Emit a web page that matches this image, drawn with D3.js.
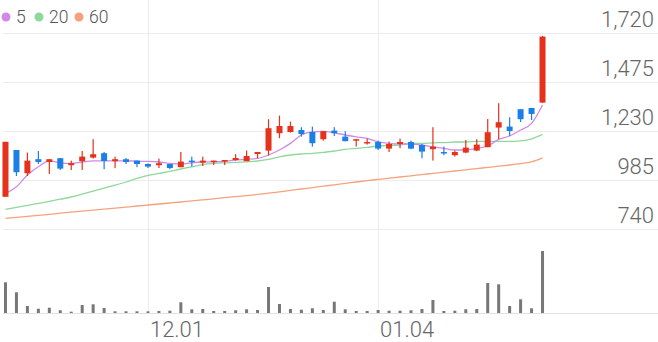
<!DOCTYPE html>
<html>
<head>
<meta charset="utf-8">
<script src="https://cdn.jsdelivr.net/npm/d3@7"></script>
<style>
    body { margin: 0; background: #fff; }
    svg { display: block; font-family: Roboto, "Noto Sans", sans-serif; }
    .grid { stroke: #ececec; stroke-width: 1; }
    .axis-label { fill: #666; font-size: 22px; font-weight: 300; }
    .legend-label { fill: #555; font-size: 17.5px; font-weight: 300; }
</style>
</head>
<body>
<svg></svg>
<script>
// 数据：日期（交易日）
var dates = ["11.12", "11.13", "11.16", "11.17", "11.18", "11.19", "11.20", "11.23", "11.24", "11.25",
    "11.26", "11.27", "11.30", "12.01", "12.02", "12.03", "12.04", "12.07", "12.08", "12.09",
    "12.10", "12.11", "12.14", "12.15", "12.16", "12.17", "12.18", "12.21", "12.22", "12.23",
    "12.24", "12.28", "12.29", "12.30", "01.04", "01.05", "01.06", "01.07", "01.08", "01.11",
    "01.12", "01.13", "01.14", "01.15", "01.18", "01.19", "01.20", "01.21", "01.22", "01.25"];

// K线：开、高、低、收
var open = [901, 1135, 1019, 1089, 1075, 1094, 1059, 1079, 1097, 1119,
    1079, 1089, 1082, 1065, 1059, 1065, 1049, 1082, 1072, 1079,
    1079, 1085, 1079, 1115, 1132, 1219, 1225, 1235, 1225, 1189,
    1232, 1202, 1182, 1169, 1175, 1142, 1165, 1175, 1160, 1139,
    1125, 1109, 1122, 1132, 1149, 1247, 1252, 1339, 1345, 1372];
var high = [1176, 1135, 1122, 1130, 1090, 1095, 1082, 1130, 1189, 1125,
    1102, 1095, 1082, 1068, 1092, 1065, 1125, 1102, 1102, 1082,
    1085, 1114, 1132, 1125, 1289, 1307, 1277, 1249, 1252, 1230,
    1249, 1229, 1189, 1192, 1182, 1177, 1192, 1182, 1165, 1249,
    1152, 1132, 1185, 1189, 1290, 1369, 1299, 1339, 1345, 1705];
var low = [901, 1005, 1005, 1065, 1015, 1035, 1035, 1035, 1092, 1039,
    1044, 1065, 1049, 1045, 1045, 1039, 1049, 1052, 1055, 1060,
    1060, 1082, 1079, 1094, 1107, 1194, 1222, 1202, 1152, 1182,
    1205, 1179, 1152, 1162, 1135, 1125, 1144, 1139, 1094, 1082,
    1109, 1102, 1119, 1129, 1149, 1189, 1205, 1275, 1285, 1370];
var close = [1176, 1024, 1082, 1075, 1089, 1042, 1069, 1102, 1114, 1080,
    1089, 1075, 1065, 1052, 1069, 1045, 1077, 1075, 1082, 1082,
    1085, 1095, 1105, 1125, 1244, 1255, 1255, 1215, 1169, 1229,
    1219, 1179, 1189, 1175, 1142, 1165, 1175, 1142, 1127, 1152,
    1119, 1125, 1147, 1162, 1224, 1274, 1230, 1289, 1315, 1702];

// 移动平均线
var ma5 = [918, 951, 1010, 1051, 1081, 1071, 1068, 1075, 1081, 1081,
    1081, 1081, 1079, 1078, 1075, 1068, 1065, 1071, 1075, 1076,
    1078, 1085, 1088, 1093, 1110, 1135, 1168, 1210, 1226, 1228,
    1221, 1210, 1201, 1193, 1176, 1168, 1165, 1165, 1160, 1151,
    1143, 1135, 1135, 1143, 1155, 1188, 1205, 1235, 1268, 1360];
var ma20 = [838, 848, 858, 868, 878, 889, 900, 914, 929, 944,
    959, 975, 993, 1008, 1018, 1028, 1040, 1051, 1062, 1068,
    1071, 1073, 1076, 1080, 1088, 1101, 1110, 1115, 1118, 1123,
    1130, 1138, 1143, 1148, 1155, 1158, 1160, 1168, 1168, 1171,
    1172, 1175, 1175, 1178, 1178, 1178, 1178, 1181, 1191, 1213];
var ma60 = [793, 798, 803, 808, 813, 819, 824, 829, 834, 839,
    844, 849, 855, 860, 865, 870, 875, 881, 886, 891,
    897, 902, 907, 913, 919, 926, 933, 940, 947, 954,
    961, 968, 975, 982, 988, 994, 1000, 1006, 1012, 1018,
    1024, 1030, 1036, 1042, 1048, 1054, 1060, 1067, 1076, 1096];

// 成交量
var volume = [307, 207, 70, 43, 53, 27, 13, 80, 87, 50,
    17, 17, 17, 17, 20, 23, 107, 37, 40, 20,
    20, 27, 37, 30, 260, 90, 40, 33, 47, 30,
    113, 37, 20, 20, 30, 23, 23, 27, 40, 130,
    20, 23, 37, 40, 300, 287, 70, 137, 47, 620];

// 坐标轴标签
var priceTicks = [740, 985, 1230, 1475, 1720];
var labelDates = ["12.01", "01.04"];
var maNames = ["5", "20", "60"];
var maColors = ["#d08ae6", "#8fd89c", "#f5a27c"];
var upColor = "#e4321b", downColor = "#1b7fe8";

var width = 658, height = 342;

var svg = d3.select("svg")
    .attr("width", width)
    .attr("height", height);

var x = d3.scaleBand()
    .domain(dates)
    .range([0, 548]);

var y = d3.scaleLinear()
    .domain([740, 1720])
    .range([229, 33]);

var yVol = d3.scaleLinear()
    .domain([0, 620])
    .range([313, 251]);

function cx(i) {
    return x(dates[i]) + x.bandwidth() / 2;
}

// 网格线
svg.selectAll(".hgrid")
    .data(priceTicks)
    .enter().append("line")
    .attr("class", "grid")
    .attr("x1", 3).attr("x2", width)
    .attr("y1", function (d) { return Math.round(y(d)) + 0.5; })
    .attr("y2", function (d) { return Math.round(y(d)) + 0.5; });

svg.selectAll(".vgrid")
    .data(labelDates)
    .enter().append("line")
    .attr("class", "grid")
    .attr("x1", function (d) { return Math.round(x(d) + x.bandwidth() / 2) + 0.5; })
    .attr("x2", function (d) { return Math.round(x(d) + x.bandwidth() / 2) + 0.5; })
    .attr("y1", 0).attr("y2", 313);

svg.append("line")
    .attr("class", "grid")
    .attr("x1", 3).attr("x2", width)
    .attr("y1", 313.5).attr("y2", 313.5)
    .style("stroke", "#e2e2e2");

// 价格标签
svg.selectAll(".ylabel")
    .data(priceTicks)
    .enter().append("text")
    .attr("class", "axis-label")
    .attr("x", 654)
    .attr("y", function (d) { return y(d) - 6; })
    .style("text-anchor", "end")
    .text(function (d) { return d3.format(",")(d); });

// 日期标签
svg.selectAll(".xlabel")
    .data(labelDates)
    .enter().append("text")
    .attr("class", "axis-label")
    .attr("x", function (d) { return x(d) + x.bandwidth() / 2 + 2; })
    .attr("y", 337)
    .text(function (d) { return d; });

// 成交量柱
svg.selectAll(".vol")
    .data(volume)
    .enter().append("rect")
    .attr("x", function (d, i) { return cx(i) - 1.5; })
    .attr("width", 3)
    .attr("y", function (d) { return yVol(d); })
    .attr("height", function (d) { return yVol(0) - yVol(d); })
    .attr("fill", "#777");

// 均线
var maData = [ma60, ma20, ma5];
var maCol = [maColors[2], maColors[1], maColors[0]];
var line = d3.line()
    .x(function (d, i) { return cx(i); })
    .y(function (d) { return y(d); })
    .curve(d3.curveMonotoneX);

svg.selectAll(".ma")
    .data(maData)
    .enter().append("path")
    .attr("d", line)
    .attr("fill", "none")
    .attr("stroke", function (d, i) { return maCol[i]; })
    .attr("stroke-width", 1.3);

// K线
var candle = svg.selectAll(".candle")
    .data(dates)
    .enter().append("g")
    .attr("fill", function (d, i) { return close[i] >= open[i] ? upColor : downColor; });

candle.append("rect")
    .attr("x", function (d, i) { return cx(i) - 0.6; })
    .attr("width", 1.2)
    .attr("y", function (d, i) { return y(high[i]); })
    .attr("height", function (d, i) { return y(low[i]) - y(high[i]); });

candle.append("rect")
    .attr("x", function (d, i) { return cx(i) - 3; })
    .attr("width", 6)
    .attr("y", function (d, i) { return y(Math.max(open[i], close[i])); })
    .attr("height", function (d, i) { return Math.max(1.5, Math.abs(y(open[i]) - y(close[i]))); });

// 图例
var legend = svg.selectAll(".legend")
    .data(maNames)
    .enter().append("g")
    .attr("transform", function (d, i) { return "translate(" + [6, 39, 79][i] + ",17)"; });

legend.append("circle")
    .attr("r", 4.5)
    .attr("fill", function (d, i) { return maColors[i]; });

legend.append("text")
    .attr("class", "legend-label")
    .attr("x", 10)
    .attr("y", 6)
    .text(function (d) { return d; });
</script>
</body>
</html>
